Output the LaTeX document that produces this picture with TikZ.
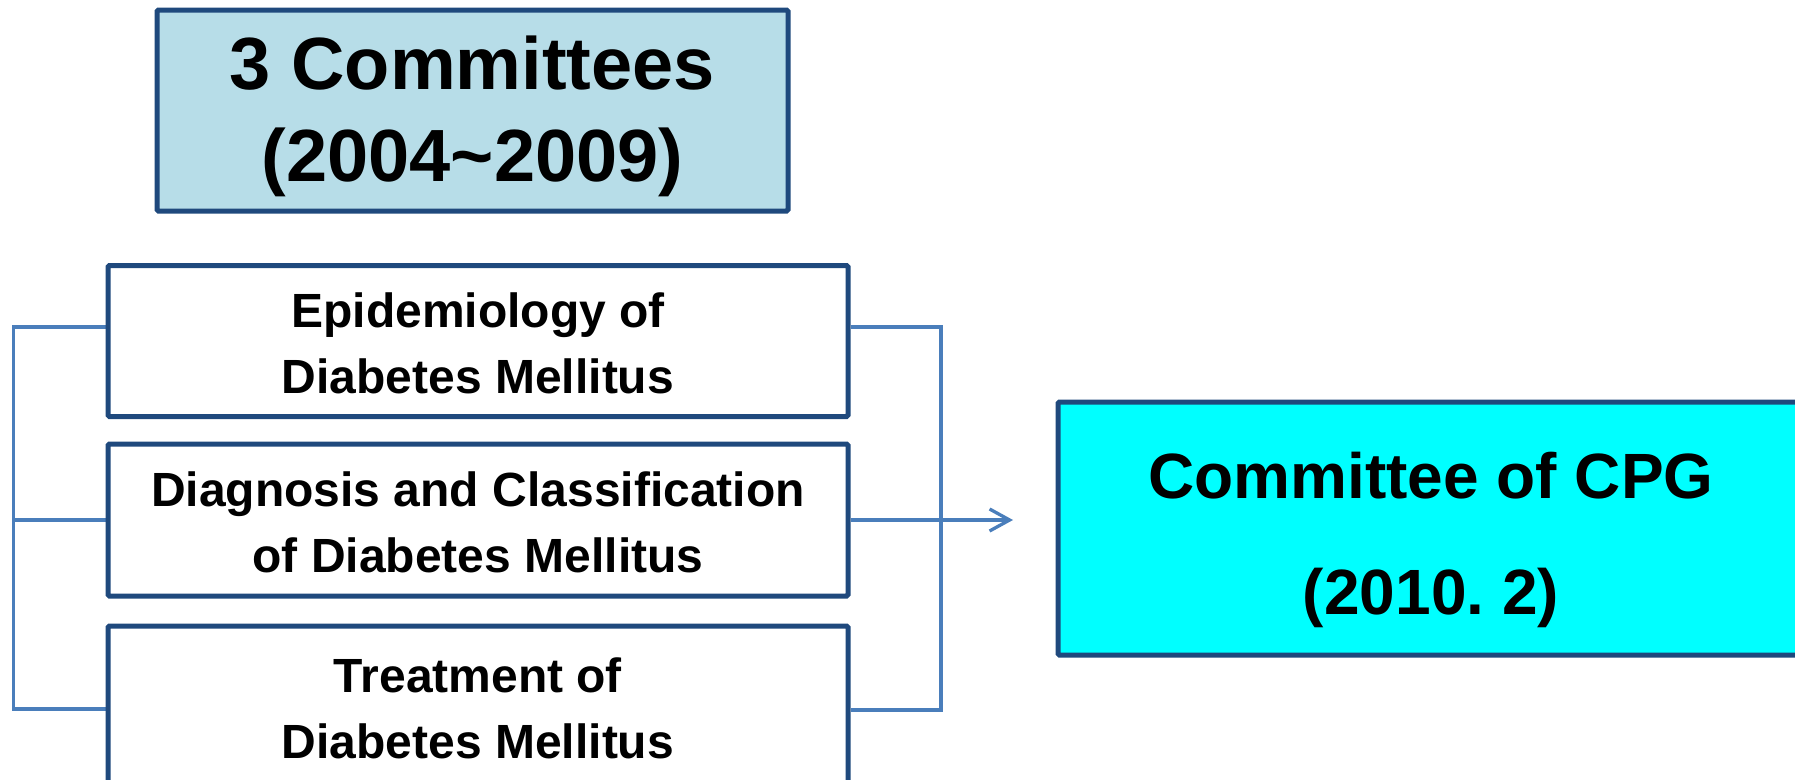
\documentclass[tikz,border=0pt]{standalone}
\usepackage{fontspec}
\setmainfont{Liberation Sans}
\usetikzlibrary{arrows.meta, backgrounds}
\definecolor{frameblue}{RGB}{31,73,125}
\definecolor{linkblue}{RGB}{74,126,187}
\definecolor{paleblue}{RGB}{183,221,232}
\definecolor{cpgcyan}{RGB}{0,255,255}
\tikzset{
  box/.style = {draw=frameblue, line width=5pt, rounded corners=1.5pt, inner sep=0pt},
  topbox/.style = {box, fill=paleblue, minimum width=631pt, minimum height=201pt},
  subbox/.style = {box, fill=white, minimum width=740pt},
  cpgbox/.style = {box, fill=cpgcyan, minimum width=746pt, minimum height=253pt},
  boxtext/.style = {align=center, inner sep=0pt, font=\bfseries},
  link/.style = {draw=linkblue, line width=3.3pt},
}

\begin{document}
\begin{tikzpicture}[x=1pt, y=-1pt]
    \useasboundingbox (0,0) rectangle (1795,779);
    \node[topbox] (committees) at (472.5,110.5) {};
    \node[boxtext, font=\fontsize{74}{92}\selectfont\bfseries] (committeestxt) at ([yshift=-6pt]committees.center) {3 Committees\\(2004\textasciitilde2009)};
    \node[subbox, minimum height=151pt] (epid) at (478,341) {};
    \node[subbox, minimum height=152pt] (diag) at (478,520) {};
    \node[subbox, minimum height=160pt] (treat) at (478,706) {};
    \node[boxtext, font=\fontsize{48}{66}\selectfont\bfseries] (epidtxt) at ([yshift=-2.5pt]epid.center) {Epidemiology of\\Diabetes Mellitus};
    \node[boxtext, font=\fontsize{48}{66}\selectfont\bfseries] (diagtxt) at ([yshift=-2pt]diag.center) {Diagnosis and Classification\\of Diabetes Mellitus};
    \node[boxtext, font=\fontsize{48}{66}\selectfont\bfseries] (treattxt) at ([yshift=-2pt]treat.center) {Treatment of\\Diabetes Mellitus};
    \node[cpgbox] (cpg) at (1431,528.5) {};
    \node[boxtext, font=\fontsize{64}{116}\selectfont\bfseries] (cpgtxt) at ([yshift=-11.5pt]cpg.center) {Committee of CPG\\(2010.\ 2)};
    \coordinate (lbar) at (13.5,520);
    \coordinate (rbar) at (941,520);
    \coordinate (tip) at (1013,520);
    \begin{scope}[on background layer]
      \draw[link] ([yshift=14pt]epid.west) -| (lbar) |- ([yshift=-3pt]treat.west);
      \draw[link] (diag.west) -- (lbar);
      \draw[link] ([yshift=14pt]epid.east) -| (rbar) |- ([yshift=-4pt]treat.east);
      \draw[link, -{Straight Barb[length=20pt, width=22pt]}] (diag.east) -- (tip);
    \end{scope}
  \end{tikzpicture}
\end{document}
